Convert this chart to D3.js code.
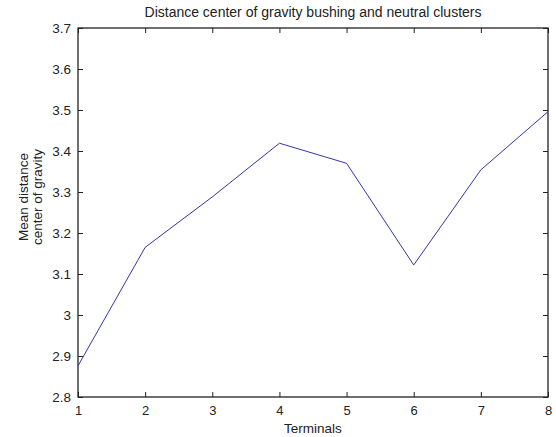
<!DOCTYPE html>
<html><head><meta charset="utf-8">
<script src="https://cdn.jsdelivr.net/npm/d3@7"></script>
<style>body{margin:0;background:#fff}svg{display:block}text{font-family:"Liberation Sans",Arial,sans-serif;fill:#222}</style>
</head><body><svg id="c" width="556" height="437"></svg>
<script>
const terminals = [1, 2, 3, 4, 5, 6, 7, 8];
const meanDistance = [2.876, 3.165, 3.288, 3.419, 3.370, 3.122, 3.354, 3.496];
const xTicks = [1, 2, 3, 4, 5, 6, 7, 8];
const yTicks = [2.8, 2.9, 3.0, 3.1, 3.2, 3.3, 3.4, 3.5, 3.6, 3.7];
const titleText = "Distance center of gravity bushing and neutral clusters";
const xLabel = "Terminals";
const yLabel = ["Mean distance", "center of gravity"];

const svg = d3.select("#c");
const L = 78, R = 548, T = 28, B = 397;
const x = d3.scaleLinear().domain([1, 8]).range([L, R]);
const y = d3.scaleLinear().domain([2.8, 3.7]).range([B, T]);
const fmt = v => (Math.abs(v - 3) < 1e-9 ? "3" : d3.format(".1f")(v));

// box
svg.append("rect").attr("x", L).attr("y", T).attr("width", R - L).attr("height", B - T)
  .attr("fill", "none").attr("stroke", "#222").attr("stroke-width", 1.3);

const ax = g => g.selectAll(".domain").remove();
svg.append("g").attr("transform", `translate(0,${B})`)
  .call(d3.axisBottom(x).tickValues(xTicks).tickSize(-5).tickPadding(9).tickFormat(d3.format("d")))
  .call(ax).call(g => g.selectAll("text").attr("font-size", 13))
  .call(g => g.selectAll("line").attr("stroke", "#222"));
svg.append("g").attr("transform", `translate(0,${T})`)
  .call(d3.axisTop(x).tickValues(xTicks).tickSize(-5).tickFormat(""))
  .call(ax).call(g => g.selectAll("line").attr("stroke", "#222"));
svg.append("g").attr("transform", `translate(${L},0)`)
  .call(d3.axisLeft(y).tickValues(yTicks).tickSize(-5).tickPadding(7).tickFormat(fmt))
  .call(ax).call(g => g.selectAll("text").attr("font-size", 13.5))
  .call(g => g.selectAll("line").attr("stroke", "#222"));
svg.append("g").attr("transform", `translate(${R},0)`)
  .call(d3.axisRight(y).tickValues(yTicks).tickSize(-5).tickFormat(""))
  .call(ax).call(g => g.selectAll("line").attr("stroke", "#222"));

svg.append("path").datum(terminals.map((t, i) => [t, meanDistance[i]]))
  .attr("fill", "none").attr("stroke", "#3535a8").attr("stroke-width", 1)
  .attr("d", d3.line().x(d => x(d[0])).y(d => y(d[1])));

svg.append("text").attr("x", (L + R) / 2).attr("y", 17).attr("text-anchor", "middle")
  .attr("font-size", 14).text(titleText);
svg.append("text").attr("x", (L + R) / 2).attr("y", 433).attr("text-anchor", "middle")
  .attr("font-size", 13.5).text(xLabel);
const yl = svg.append("text").attr("transform", `translate(28,197) rotate(-90)`)
  .attr("text-anchor", "middle").attr("font-size", 13.5);
yl.append("tspan").attr("x", 0).attr("dy", 0).text(yLabel[0]);
yl.append("tspan").attr("x", 0).attr("dy", 14).text(yLabel[1]);
</script></body></html>
